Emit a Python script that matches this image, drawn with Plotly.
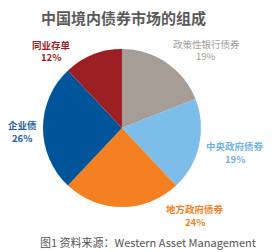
import plotly.graph_objects as go

labels = ["政策性银行债券", "中央政府债券", "地方政府债券", "企业债", "同业存单"]
values = [19, 19, 24, 26, 12]
colors = ["#A59D96", "#7DBDE9", "#F58021", "#00559A", "#9C1F24"]
text_colors = ["#A59D96", "#6FB3E3", "#F58021", "#1F5F9E", "#9C1F24"]
title_text = "中国境内债券市场的组成"
caption_text = "图1 资料来源：Western Asset Management"

# label anchor positions in pixels (layout only)
W, H = 273, 252
label_pos = [(206, 50), (235, 152), (195, 215), (22, 131), (51, 51)]
label_bold = [False, True, True, True, True]

fig = go.Figure(go.Pie(
    labels=labels, values=values, sort=False, direction="clockwise",
    rotation=0, marker=dict(colors=colors, line=dict(width=0)),
    textinfo="none", hoverinfo="label+percent",
    domain=dict(x=[43 / W, 201 / W], y=[(H - 207) / H, (H - 49) / H]),
    showlegend=False,
))

total = sum(values)
font = "Noto Sans CJK SC"
for lab, v, c, (px, py), b in zip(labels, values, text_colors, label_pos, label_bold):
    pct = f"{round(100 * v / total)}%"
    for txt, dy in ((lab, -6.5), (pct, 6.5)):
        fig.add_annotation(
            x=px / W, y=1 - (py + dy) / H, xref="paper", yref="paper",
            text=f"<b>{txt}</b>" if b else txt,
            showarrow=False, font=dict(family=font, size=9.5, color=c),
            xanchor="center", yanchor="middle", align="center", borderpad=0,
        )

fig.add_annotation(
    x=123 / W, y=1 - 18 / H, xref="paper", yref="paper",
    text=f"<b>{title_text}</b>", showarrow=False,
    font=dict(family=font, size=15, color="#5A5A5A"),
    xanchor="center", yanchor="middle",
)
fig.add_annotation(
    x=148 / W, y=1 - 242 / H, xref="paper", yref="paper",
    text=caption_text, showarrow=False,
    font=dict(family=font, size=11, color="#555555"),
    xanchor="center", yanchor="middle",
)

fig.update_layout(
    width=W, height=H, margin=dict(l=0, r=0, t=0, b=0),
    paper_bgcolor="white", plot_bgcolor="white",
)
fig.write_html("out.html")
